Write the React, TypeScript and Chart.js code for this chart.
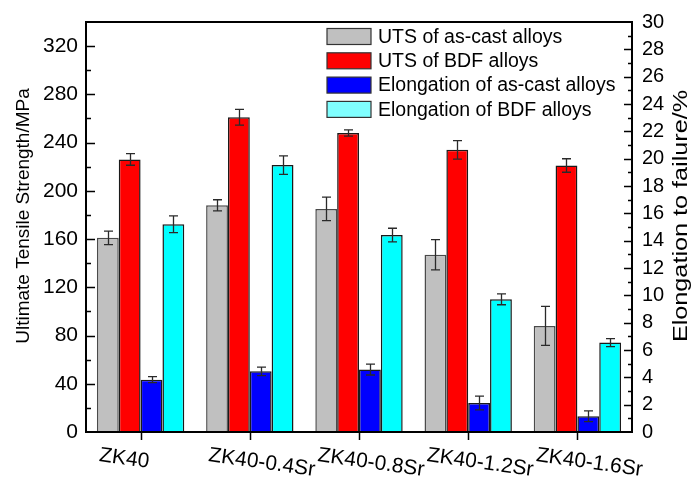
import { useEffect, useRef } from 'react';
import { Chart, registerables } from 'chart.js';

Chart.register(...registerables);

const categories = ['ZK40', 'ZK40-0.4Sr', 'ZK40-0.8Sr', 'ZK40-1.2Sr', 'ZK40-1.6Sr'];
const seriesLabels = [
  'UTS of as-cast alloys',
  'UTS of BDF alloys',
  'Elongation of as-cast alloys',
  'Elongation of BDF alloys',
];
const utsAsCast = [161, 188, 185, 147, 88];
const utsAsCastErr = [5.6, 4.6, 9.7, 12.6, 16.2];
const utsBDF = [226, 261, 248, 234, 221];
const utsBDFErr = [4.8, 6.6, 2.6, 7.7, 5.6];
const elongAsCast = [3.83, 4.44, 4.57, 2.12, 1.15];
const elongAsCastErr = [0.22, 0.31, 0.4, 0.5, 0.39];
const elongBDF = [15.2, 19.53, 14.41, 9.71, 6.54];
const elongBDFErr = [0.61, 0.68, 0.5, 0.4, 0.29];
const leftTitle = 'Ultimate Tensile Strength/MPa';
const rightTitle = 'Elongation to failure/%';
const leftMax = 340;
const leftStep = 20;
const leftLabelStep = 40;
const rightMax = 30;
const rightStep = 1;
const rightLabelStep = 2;

const FONT = "'Liberation Sans', Arial, sans-serif";
const legendFill = ['#c0c0c0', '#ff0000', '#0000ff', '#80ffff'];

const decorPlugin = {
  id: 'decor',
  afterDatasetsDraw(chart: any) {
    const ctx = chart.ctx;
    const { left, right, top, bottom } = chart.chartArea;
    // error bars
    chart.data.datasets.forEach((ds: any, i: number) => {
      const meta = chart.getDatasetMeta(i);
      const sc = chart.scales[meta.yAxisID];
      meta.data.forEach((bar: any, j: number) => {
        const v = ds.data[j];
        const e = ds.errors[j];
        const yt = sc.getPixelForValue(v + e);
        const yb = sc.getPixelForValue(v - e);
        const cx = Math.round(bar.x) + 0.5;
        ctx.save();
        ctx.strokeStyle = '#2a2a2a';
        ctx.lineWidth = 1.3;
        ctx.beginPath();
        ctx.moveTo(cx, yt);
        ctx.lineTo(cx, yb);
        ctx.moveTo(cx - 4.5, yt);
        ctx.lineTo(cx + 4.5, yt);
        ctx.moveTo(cx - 4.5, yb);
        ctx.lineTo(cx + 4.5, yb);
        ctx.stroke();
        ctx.restore();
      });
    });
    // frame
    ctx.save();
    ctx.strokeStyle = '#000';
    ctx.lineWidth = 2;
    ctx.strokeRect(left, top, right - left, bottom - top);
    // tick marks
    ctx.lineWidth = 1.5;
    ctx.beginPath();
    const y = chart.scales.y;
    y.ticks.forEach((t: any) => {
      if (t.value <= 0 || t.value >= leftMax) return;
      const py = Math.round(y.getPixelForValue(t.value)) + 0.5;
      const len = t.value % leftLabelStep === 0 ? 9 : 5;
      ctx.moveTo(left, py);
      ctx.lineTo(left + len, py);
    });
    const y1 = chart.scales.y1;
    y1.ticks.forEach((t: any) => {
      if (t.value <= 0 || t.value >= rightMax) return;
      const py = Math.round(y1.getPixelForValue(t.value)) + 0.5;
      const len = t.value % rightLabelStep === 0 ? 8 : 4;
      ctx.moveTo(right, py);
      ctx.lineTo(right - len, py);
    });
    const x = chart.scales.x;
    categories.forEach((_, i) => {
      const px = Math.round(x.getPixelForTick(i)) + 0.5;
      ctx.moveTo(px, bottom);
      ctx.lineTo(px, bottom + 8);
    });
    ctx.stroke();
    ctx.restore();
  },
  afterDraw(chart: any) {
    const ctx = chart.ctx;
    const { left, right, top, bottom } = chart.chartArea;
    const x = chart.scales.x;
    ctx.save();
    ctx.fillStyle = '#000';
    // x labels, rotated
    ctx.font = `21px ${FONT}`;
    ctx.textAlign = 'left';
    ctx.textBaseline = 'alphabetic';
    categories.forEach((c, i) => {
      const px = x.getPixelForTick(i);
      ctx.save();
      ctx.translate(px - 42, bottom + 29);
      ctx.rotate((8 * Math.PI) / 180);
      ctx.fillText(c, 0, 0);
      ctx.restore();
    });
    // axis titles
    const cy = (top + bottom) / 2 - 11;
    ctx.textAlign = 'center';
    ctx.textBaseline = 'middle';
    ctx.font = `19px ${FONT}`;
    ctx.save();
    ctx.translate(24, cy);
    ctx.rotate(-Math.PI / 2);
    ctx.fillText(leftTitle, 0, 0);
    ctx.restore();
    ctx.font = `21px ${FONT}`;
    ctx.save();
    ctx.translate(right + 49, cy);
    ctx.rotate(-Math.PI / 2);
    ctx.scale(1.2, 1);
    ctx.fillText(rightTitle, 0, 0);
    ctx.restore();
    // legend
    ctx.font = `19.5px ${FONT}`;
    ctx.textAlign = 'left';
    ctx.textBaseline = 'middle';
    chart.data.datasets.forEach((ds: any, i: number) => {
      const rowY = top + 14.5 + i * 24.3;
      ctx.fillStyle = legendFill[i];
      ctx.fillRect(left + 241, rowY - 8, 44, 16);
      ctx.strokeStyle = '#333';
      ctx.lineWidth = 1.2;
      ctx.strokeRect(left + 241, rowY - 8, 44, 16);
      ctx.fillStyle = '#000';
      ctx.fillText(ds.label, left + 292, rowY + 1);
    });
    ctx.restore();
  },
};

export default function App() {
  const ref = useRef<HTMLCanvasElement>(null);
  useEffect(() => {
    document.body.style.margin = '0';
    const canvas = ref.current;
    if (!canvas) return;
    const tickFont = { family: FONT, size: 21 };
    const chart = new Chart(canvas, {
      type: 'bar',
      data: {
        labels: categories,
        datasets: [
          {
            label: seriesLabels[0],
            data: utsAsCast,
            errors: utsAsCastErr,
            yAxisID: 'y',
            stack: 'a',
            backgroundColor: '#c0c0c0',
            borderColor: '#4a4a4a',
          },
          {
            label: seriesLabels[1],
            data: utsBDF,
            errors: utsBDFErr,
            yAxisID: 'y',
            stack: 'b',
            backgroundColor: '#ff0000',
            borderColor: '#1a1a1a',
          },
          {
            label: seriesLabels[2],
            data: elongAsCast,
            errors: elongAsCastErr,
            yAxisID: 'y1',
            stack: 'c',
            backgroundColor: '#0000ff',
            borderColor: '#1a1a1a',
          },
          {
            label: seriesLabels[3],
            data: elongBDF,
            errors: elongBDFErr,
            yAxisID: 'y1',
            stack: 'd',
            backgroundColor: '#00ffff',
            borderColor: '#1a1a1a',
          },
        ] as any,
      },
      options: {
        responsive: false,
        animation: false,
        devicePixelRatio: 1,
        layout: { padding: { top: 22, left: 0, right: 0, bottom: 0 } },
        datasets: {
          bar: {
            categoryPercentage: 0.8,
            barPercentage: 1,
            borderWidth: 1.5,
            borderSkipped: 'start',
          },
        },
        plugins: {
          legend: { display: false },
          tooltip: { enabled: false },
          title: { display: false },
        },
        scales: {
          x: {
            type: 'category',
            offset: true,
            grid: { display: false, drawTicks: false },
            border: { display: false },
            ticks: { display: false },
            afterFit: (s: any) => {
              s.height = 47;
            },
          },
          y: {
            type: 'linear',
            position: 'left',
            min: 0,
            max: leftMax,
            grid: { display: false, drawTicks: false },
            border: { display: false },
            ticks: {
              stepSize: leftStep,
              padding: 8,
              color: '#000',
              font: tickFont,
              autoSkip: false,
              callback: (v: any) =>
                v % leftLabelStep === 0 && v < leftMax ? String(v) : '',
            },
            afterFit: (s: any) => {
              s.width = 86;
            },
          },
          y1: {
            type: 'linear',
            position: 'right',
            min: 0,
            max: rightMax,
            grid: { display: false, drawTicks: false },
            border: { display: false },
            ticks: {
              stepSize: rightStep,
              padding: 10,
              color: '#000',
              font: { family: FONT, size: 20 },
              autoSkip: false,
              callback: (v: any) => (v % rightLabelStep === 0 ? String(v) : ''),
            },
            afterFit: (s: any) => {
              s.width = 60;
            },
          },
        },
      } as any,
      plugins: [decorPlugin],
    });
    return () => chart.destroy();
  }, []);
  return (
    <div style={{ width: 692, height: 479, background: '#fff' }}>
      <canvas ref={ref} width={692} height={479} />
    </div>
  );
}
